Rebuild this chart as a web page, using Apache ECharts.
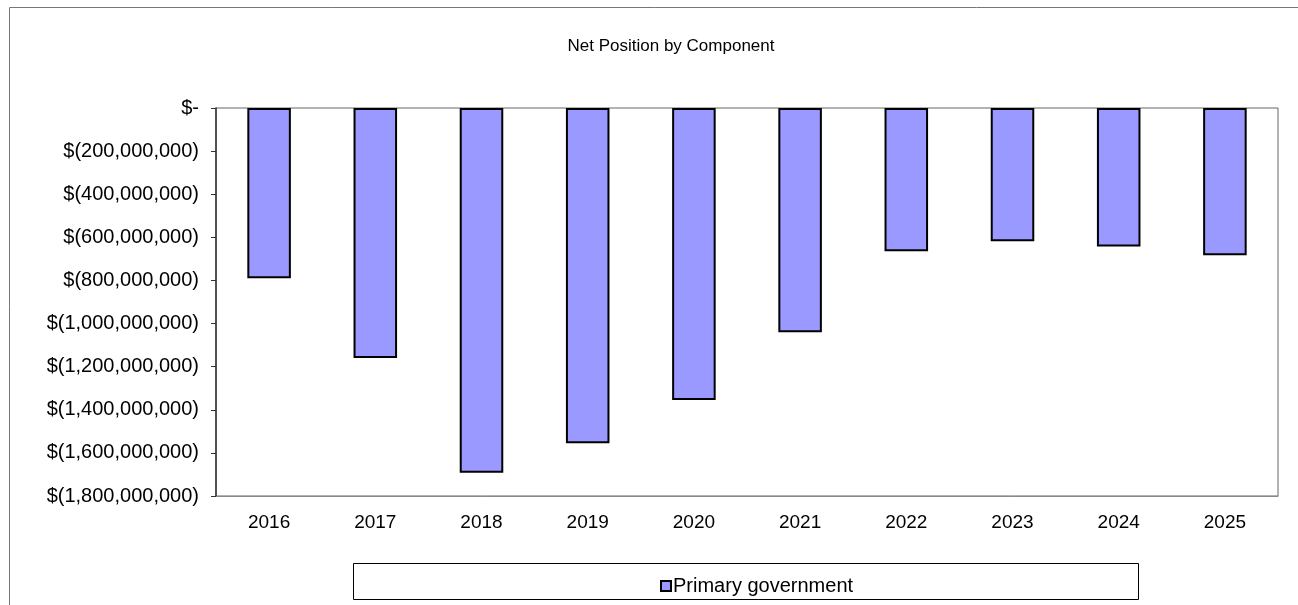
<!DOCTYPE html>
<html>
<head>
<meta charset="utf-8">
<title>Net Position by Component</title>
<script src="https://cdn.jsdelivr.net/npm/echarts@6/dist/echarts.min.js"></script>
<style>
  html, body { margin: 0; padding: 0; background: #ffffff; }
  #chart { width: 1298px; height: 605px; }
</style>
</head>
<body>
<div id="chart"></div>
<script>
// Fiscal years shown on the category axis
const years = ['2016', '2017', '2018', '2019', '2020', '2021', '2022', '2023', '2024', '2025'];
// Net position of the primary government, in dollars
const primaryGovernment = [
  -790000000, -1160000000, -1692000000, -1555000000, -1355000000,
  -1040000000, -665000000, -618000000, -642000000, -683000000
];
const seriesName = 'Primary government';
const chartTitle = 'Net Position by Component';

const FONT = '"Liberation Sans", Arial, sans-serif';

// Accounting-style currency: $- for zero, parentheses for negatives
function money(v) {
  if (v === 0) return '$-';
  const s = Math.abs(v).toLocaleString('en-US');
  return v < 0 ? '$(' + s + ')' : '$' + s;
}

const chart = echarts.init(document.getElementById('chart'));
chart.setOption({
  animation: false,
  backgroundColor: '#ffffff',
  textStyle: { fontFamily: FONT },
  title: {
    text: chartTitle,
    left: 666,
    top: 33,
    textAlign: 'center',
    textStyle: { fontFamily: FONT, fontSize: 17, fontWeight: 'normal', color: '#000' }
  },
  graphic: [
    { // outer chart frame
      type: 'rect', silent: true, z: -1,
      shape: { x: 9.5, y: 7.5, width: 1300, height: 620 },
      style: { fill: 'none', stroke: '#777', lineWidth: 1 }
    },
    { // legend box
      type: 'rect', silent: true, z: -1,
      shape: { x: 353.5, y: 563.5, width: 785, height: 36 },
      style: { fill: '#fff', stroke: '#000', lineWidth: 1 }
    }
  ],
  legend: {
    data: [seriesName],
    left: 655,
    top: 571,
    icon: 'rect',
    itemWidth: 10,
    itemHeight: 10,
    itemGap: 0,
    textStyle: { fontFamily: FONT, fontSize: 20, color: '#000', padding: [0, 0, 0, -3] }
  },
  grid: {
    left: 216, right: 20, top: 108, bottom: 109,
    show: true, borderColor: '#666', borderWidth: 1, backgroundColor: 'transparent'
  },
  xAxis: {
    type: 'category',
    data: years,
    axisLine: { onZero: false, lineStyle: { color: '#888', width: 1 } },
    axisTick: { show: false },
    axisLabel: { fontFamily: FONT, fontSize: 19, color: '#000', margin: 17 }
  },
  yAxis: {
    type: 'value',
    min: -1800000000,
    max: 0,
    interval: 200000000,
    axisLine: { show: true, lineStyle: { color: '#333', width: 1.5 } },
    axisTick: { show: true, inside: false, length: 5, lineStyle: { color: '#333' } },
    splitLine: { show: false },
    axisLabel: { fontFamily: FONT, fontSize: 20, color: '#000', margin: 17, formatter: money }
  },
  series: [{
    name: seriesName,
    type: 'bar',
    data: primaryGovernment,
    barWidth: '41%',
    itemStyle: { color: '#9999ff', borderColor: '#000', borderWidth: 2 }
  }]
});
</script>
</body>
</html>
